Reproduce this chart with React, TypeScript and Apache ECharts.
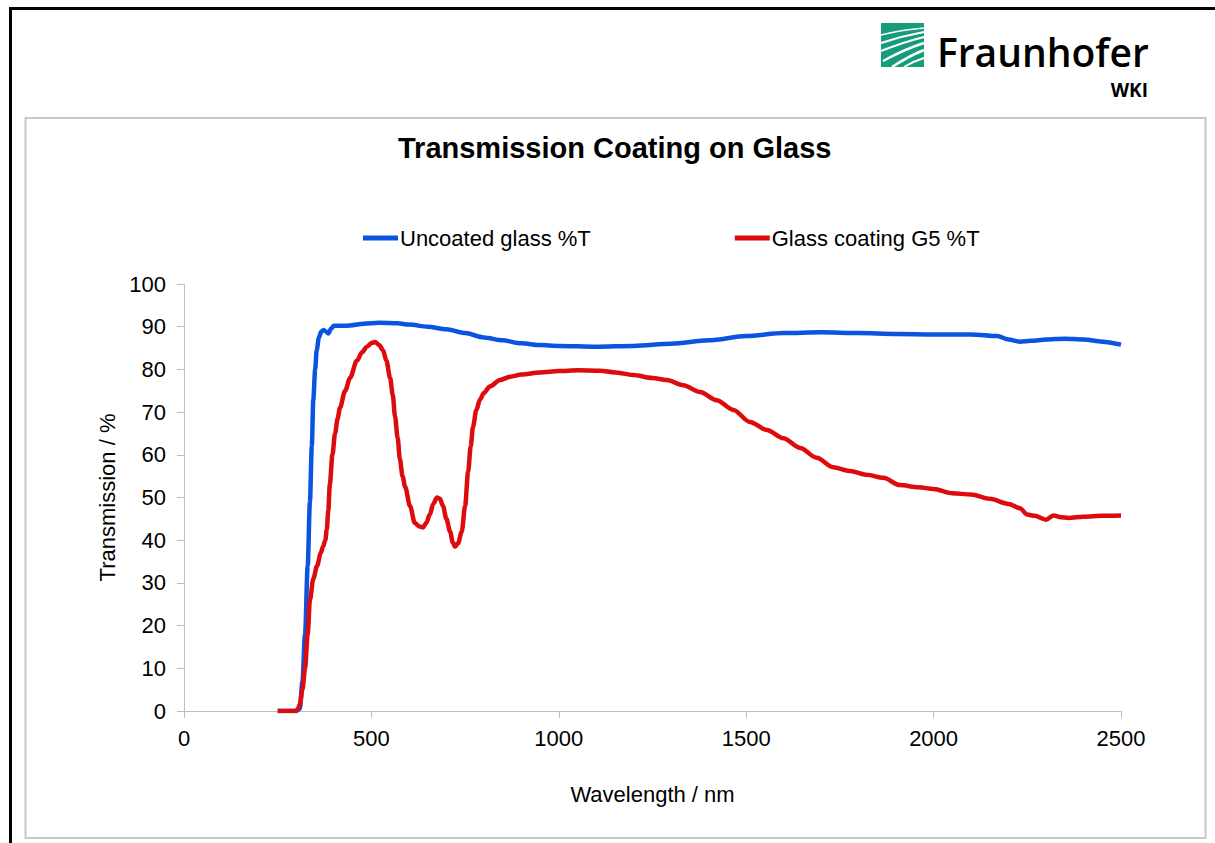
import React, { useEffect, useRef } from "react";
import * as echarts from "echarts";

const FONT = "'Liberation Sans', Arial, sans-serif";

const xTicks = [0, 500, 1000, 1500, 2000, 2500];
const yTicks = [0, 10, 20, 30, 40, 50, 60, 70, 80, 90, 100];

const seriesNames = ["Uncoated glass %T", "Glass coating G5 %T"];

const uncoatedNm = [
  250, 300, 309, 316, 323, 330, 336, 341, 345, 350, 354, 360, 366, 372, 379, 385, 392, 400, 420, 443,
  480, 520, 570, 600, 650, 700, 750, 800, 850, 900, 950, 1000, 1100, 1200, 1300, 1400, 1500, 1600,
  1700, 1800, 1900, 2000, 2100, 2170, 2200, 2230, 2260, 2300, 2350, 2400, 2450, 2500,
];
const uncoatedT = [
  0, 0, 0.5, 7, 18, 34, 49, 62, 73, 80, 84.5, 87.5, 88.8, 89.2, 88.9, 88.4, 89.5, 90.2, 90.2, 90.3,
  90.7, 90.9, 90.8, 90.5, 90.0, 89.4, 88.5, 87.5, 86.8, 86.1, 85.7, 85.5, 85.3, 85.5, 86.0, 86.8, 87.8, 88.5,
  88.7, 88.5, 88.3, 88.2, 88.2, 87.8, 87.0, 86.5, 86.7, 87.0, 87.2, 87.0, 86.5, 85.8,
];

const coatedNm = [
  250, 296, 303, 309, 316, 323, 330, 336, 345, 355, 365, 371, 377, 381, 385, 389, 396, 403, 410, 416, 430,
  443, 461, 475, 488, 500, 510, 520, 531, 540, 550, 557, 563, 570, 576, 583, 590, 603, 616, 628, 638,
  646, 656, 665, 675, 683, 691, 700, 710, 717, 723, 731, 741, 750, 758, 765, 771, 780, 790, 800, 816,
  843, 870, 900, 950, 1000, 1050, 1110, 1150, 1198, 1250, 1288, 1332, 1377, 1421, 1466, 1510, 1555, 1599,
  1644, 1688, 1732, 1777, 1822, 1866, 1910, 1960, 2000, 2050, 2100, 2150, 2200, 2230, 2250, 2270, 2300,
  2320, 2340, 2360, 2400, 2450, 2500,
];
const coatedT = [
  0, 0, 0.3, 1.5, 5, 10, 18, 26, 31, 34, 37, 38.5, 40, 42.5, 47, 53, 60, 65, 68.5, 71, 75,
  78, 82, 84, 85.3, 86.2, 86.4, 85.8, 84.5, 82, 78, 74, 69, 64, 59, 55, 52.5, 48, 44, 43.2, 43,
  44, 46, 48.5, 50, 49.7, 48, 45, 42, 39.5, 38.5, 39.2, 42, 48, 56, 62, 66.5, 70.5, 73, 74.5, 76,
  77.5, 78.3, 78.8, 79.3, 79.6, 79.8, 79.7, 79.3, 78.7, 78.0, 77.5, 76.3, 74.7, 72.8, 70.5, 67.7, 65.8, 63.9,
  61.6, 59.3, 57.1, 56.2, 55.3, 54.6, 52.9, 52.4, 52.0, 51.0, 50.7, 49.7, 48.5, 47.5, 46, 45.7, 44.8,
  45.8, 45.4, 45.2, 45.5, 45.7, 45.8,
];

const pair = (xs: number[], ys: number[]) => xs.map((x, i) => [x, ys[i]]);

export default function App() {
  const ref = useRef<HTMLDivElement>(null);
  useEffect(() => {
    if (!ref.current) return;
    const chart = echarts.init(ref.current, null, { renderer: "svg" });
    const white = { stroke: "#ffffff", lineWidth: 2, fill: null };
    chart.setOption({
      animation: false,
      backgroundColor: "#ffffff",
      textStyle: { fontFamily: FONT },
      title: {
        text: "Transmission Coating on Glass",
        left: 398,
        top: 133,
        padding: 0,
        textStyle: { fontFamily: FONT, fontSize: 29, fontWeight: "bold", color: "#000" },
      },
      legend: {
        data: seriesNames,
        left: 363,
        top: 227,
        padding: 0,
        icon: "rect",
        itemWidth: 35,
        itemHeight: 5,
        itemGap: 144,
        textStyle: { fontFamily: FONT, fontSize: 22, color: "#000", padding: [0, 0, 0, -3] },
      },
      grid: { left: 184, right: 94, top: 284, bottom: 132, containLabel: false },
      xAxis: {
        type: "value",
        min: 0,
        max: 2500,
        interval: 500,
        name: "Wavelength / nm",
        nameLocation: "middle",
        nameGap: 72,
        nameTextStyle: { fontFamily: FONT, fontSize: 22, color: "#000" },
        axisLine: { show: true, lineStyle: { color: "#bfbfbf", width: 1 } },
        axisTick: { show: true, length: 7, lineStyle: { color: "#bfbfbf" } },
        axisLabel: {
          margin: 16,
          fontFamily: FONT,
          fontSize: 22,
          color: "#000",
          formatter: (v: number) => (xTicks.includes(v) ? String(v) : ""),
        },
        splitLine: { show: false },
      },
      yAxis: {
        type: "value",
        min: 0,
        max: 100,
        interval: 10,
        name: "Transmission / %",
        nameLocation: "middle",
        nameGap: 57,
        nameTextStyle: { fontFamily: FONT, fontSize: 22, color: "#000" },
        axisLine: { show: true, lineStyle: { color: "#bfbfbf", width: 1 } },
        axisTick: { show: true, length: 7, lineStyle: { color: "#bfbfbf" } },
        axisLabel: {
          margin: 18,
          fontFamily: FONT,
          fontSize: 22,
          color: "#000",
          formatter: (v: number) => (yTicks.includes(v) ? String(v) : ""),
        },
        splitLine: { show: false },
      },
      series: [
        {
          name: seriesNames[0],
          type: "line",
          data: pair(uncoatedNm, uncoatedT),
          showSymbol: false,
          smooth: 0.3,
          smoothMonotone: "x",
          lineStyle: { color: "#0c53e0", width: 4.5 },
          itemStyle: { color: "#0c53e0" },
          z: 3,
        },
        {
          name: seriesNames[1],
          type: "line",
          data: pair(coatedNm, coatedT),
          showSymbol: false,
          smooth: 0.3,
          smoothMonotone: "x",
          lineStyle: { color: "#dd0b0b", width: 4.5 },
          itemStyle: { color: "#dd0b0b" },
          z: 4,
        },
      ],
      graphic: [
        { type: "line", shape: { x1: 9, y1: 8.5, x2: 1215, y2: 8.5 }, style: { stroke: "#000", lineWidth: 3 } },
        { type: "line", shape: { x1: 10.5, y1: 7, x2: 10.5, y2: 843 }, style: { stroke: "#000", lineWidth: 3 } },
        {
          type: "rect",
          shape: { x: 25.5, y: 118, width: 1180, height: 720 },
          style: { fill: null, stroke: "#c8c8c8", lineWidth: 2 },
          z: -1,
        },
        { type: "rect", shape: { x: 881, y: 23, width: 43, height: 44 }, style: { fill: "#169c7b" } },
        { type: "bezierCurve", shape: { x1: 881, y1: 35, x2: 924, y2: 28, cpx1: 900, cpy1: 30 }, style: { ...white, lineWidth: 1.5 } },
        { type: "bezierCurve", shape: { x1: 881, y1: 43, x2: 924, y2: 32, cpx1: 902, cpy1: 36 }, style: white },
        { type: "bezierCurve", shape: { x1: 881, y1: 51, x2: 924, y2: 37, cpx1: 904, cpy1: 42 }, style: white },
        { type: "bezierCurve", shape: { x1: 883, y1: 61, x2: 924, y2: 43, cpx1: 905, cpy1: 49 }, style: { ...white, lineWidth: 2.5 } },
        { type: "bezierCurve", shape: { x1: 892, y1: 67, x2: 924, y2: 50, cpx1: 909, cpy1: 56 }, style: { ...white, lineWidth: 2.5 } },
        { type: "bezierCurve", shape: { x1: 904, y1: 67, x2: 924, y2: 58, cpx1: 914, cpy1: 61 }, style: white },
        {
          type: "text",
          x: 937,
          y: 32,
          style: {
            text: "Fraunhofer",
            font: "600 39px 'Open Sans', 'Liberation Sans', sans-serif",
            fill: "#000",
            verticalAlign: "top",
          },
        },
        {
          type: "text",
          x: 1148,
          y: 80,
          style: {
            text: "WKI",
            font: "bold 19px 'Open Sans', 'Liberation Sans', sans-serif",
            fill: "#000",
            align: "right",
            verticalAlign: "top",
          },
        },
      ],
    });
    return () => chart.dispose();
  }, []);
  return (
    <div
      ref={ref}
      style={{ position: "fixed", left: 0, top: 0, width: 1215, height: 843, background: "#fff" }}
    />
  );
}
